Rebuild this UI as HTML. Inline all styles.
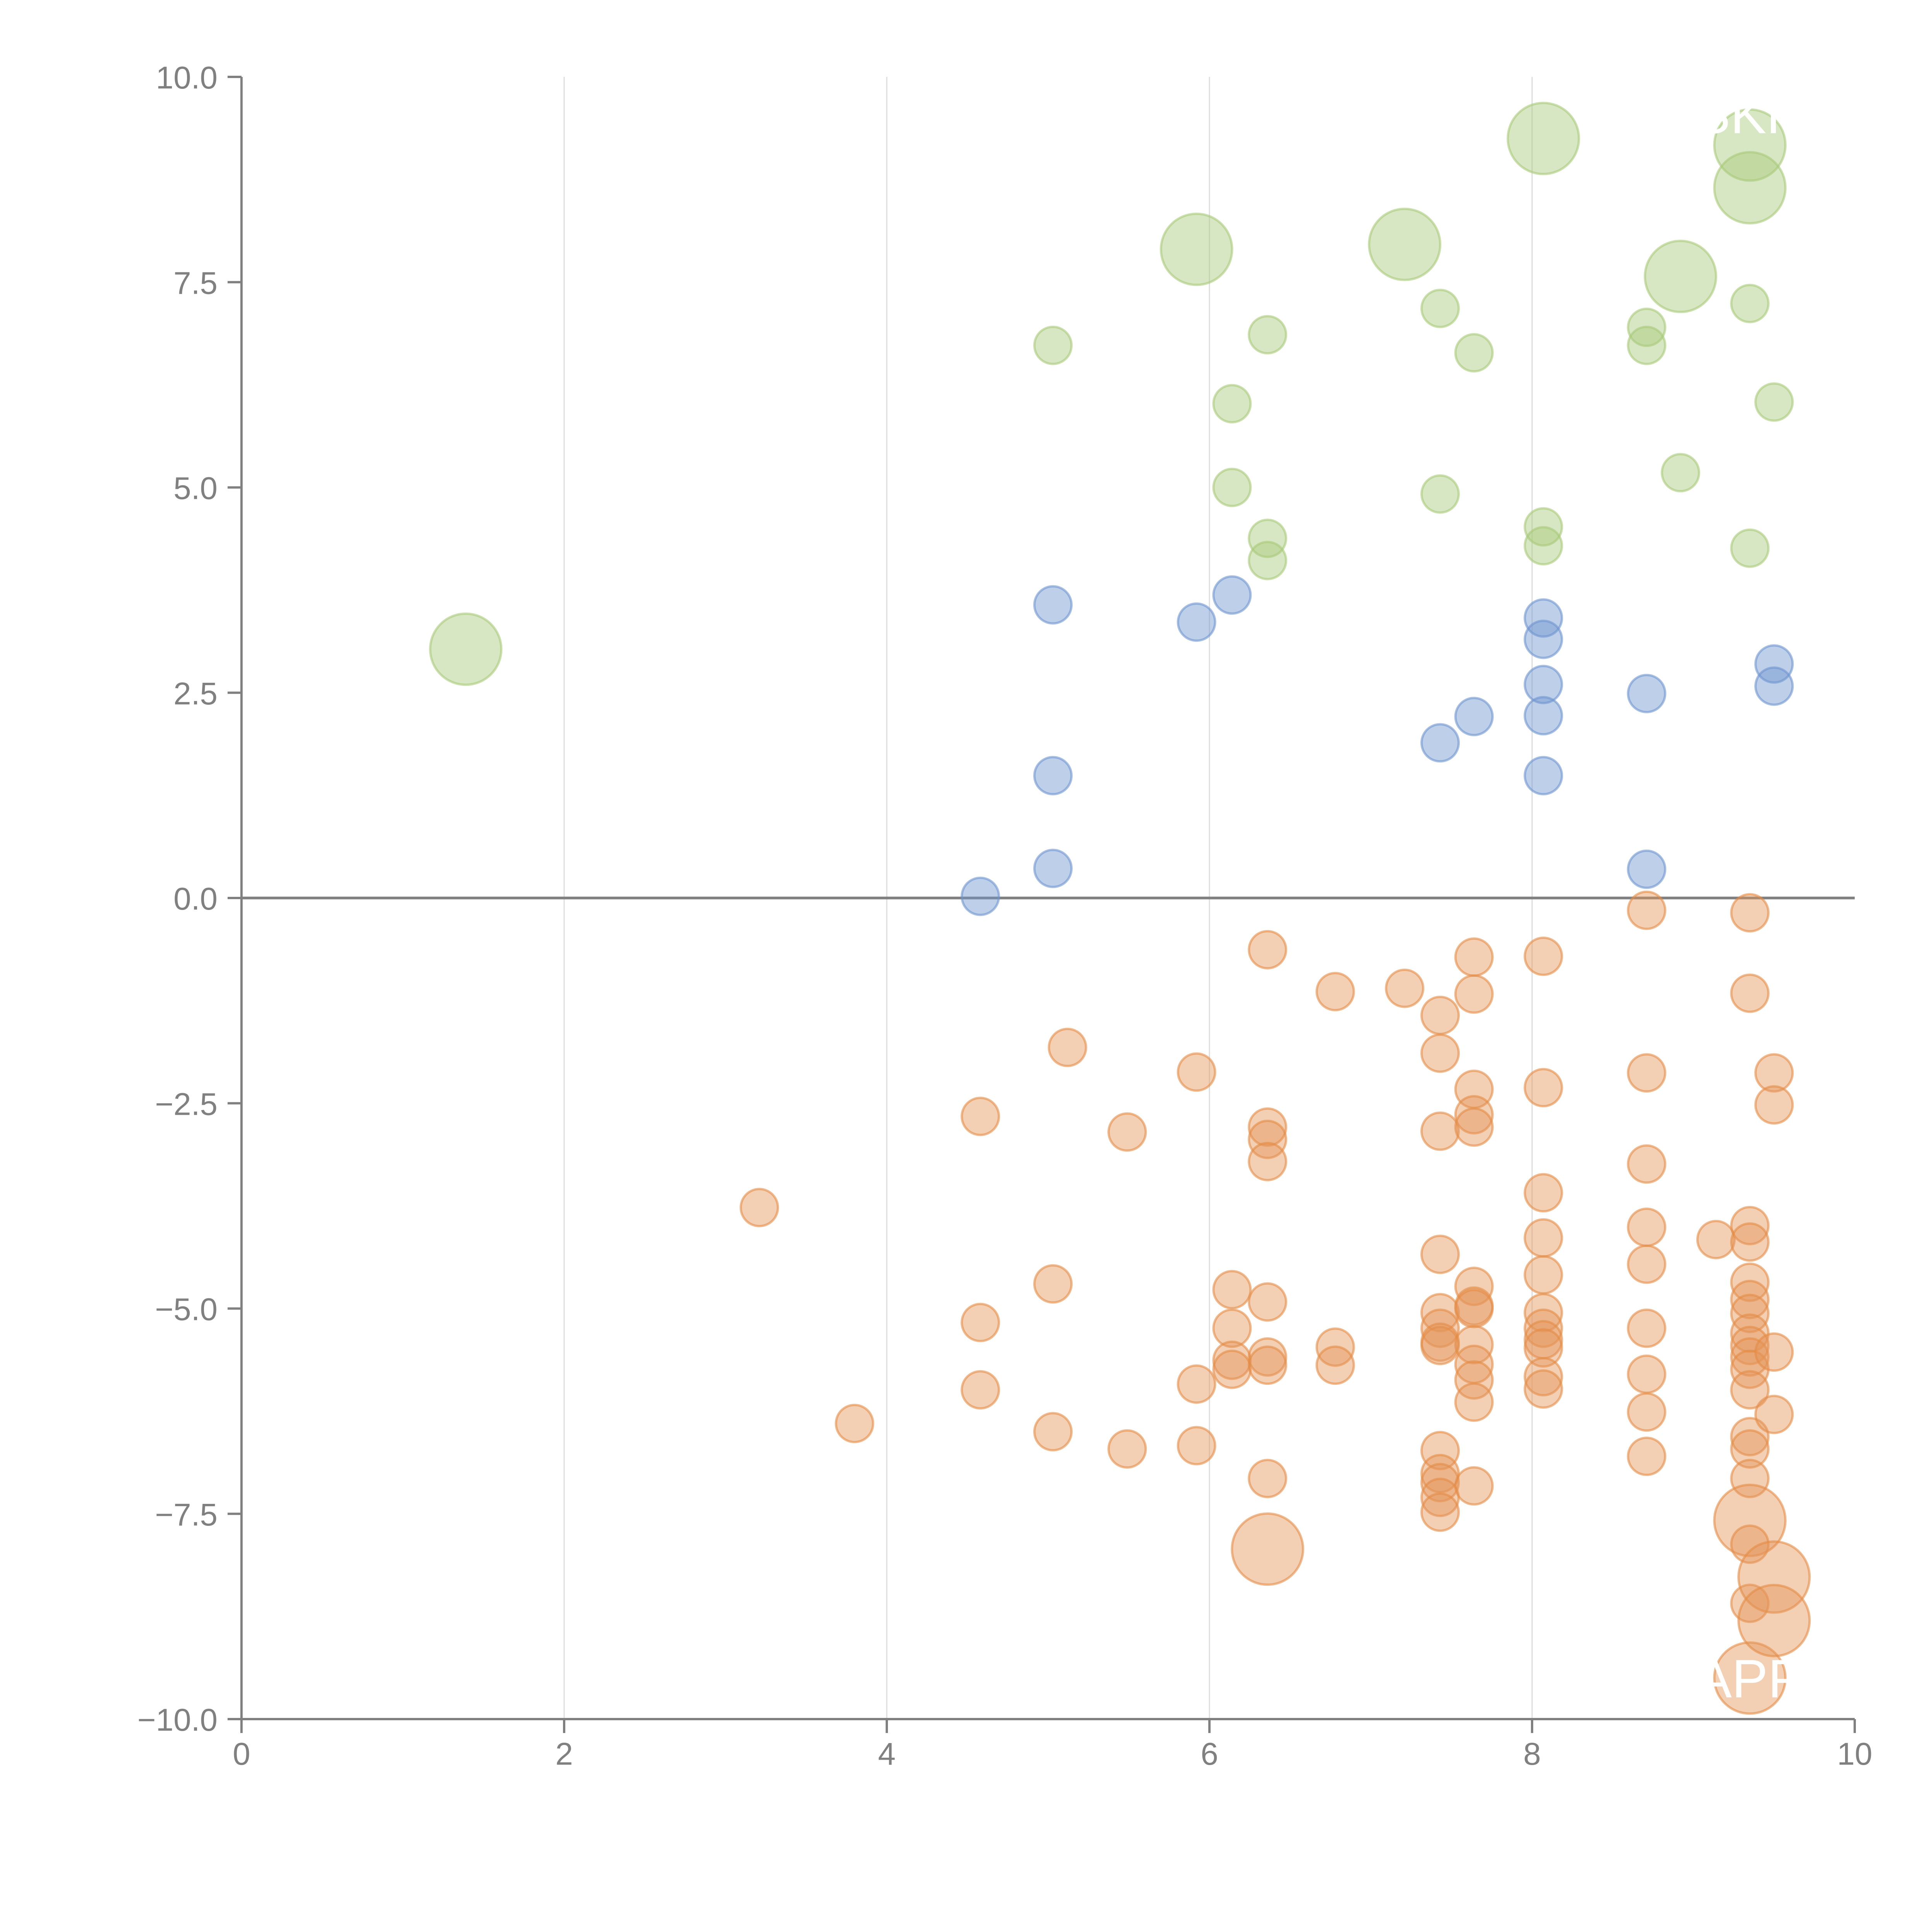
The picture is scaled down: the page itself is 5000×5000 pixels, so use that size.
<!DOCTYPE html>
<html><head><meta charset="utf-8"><style>
html,body{margin:0;padding:0;background:#fff;}
svg{display:block;font-family:"Liberation Sans",Arial,sans-serif;}
</style></head><body>
<svg id="chart" width="5000" height="5000" viewBox="0 0 5000 5000" xmlns="http://www.w3.org/2000/svg">
<rect width="5000" height="5000" fill="#fff"/>
<g id="grid"></g><g id="axes"></g><g id="marks"></g><g id="labels"></g>
</svg>
<script>
const xTicks=[0,2,4,6,8,10];
const yTicks=[-10,-7.5,-5,-2.5,0,2.5,5,7.5,10];
const greenX=[1.39,5.92,7.21,8.07,9.35,9.35,8.92,5.03,6.36,6.14,6.14,6.36,6.36,7.43,7.64,7.43,8.07,8.07,8.71,8.71,9.35,9.50,8.92,9.35];
const greenY=[3.03,7.90,7.96,9.25,9.17,8.65,7.57,6.73,6.86,6.02,5.0,4.38,4.11,7.18,6.64,4.92,4.52,4.29,6.95,6.73,7.24,6.04,5.18,4.26];
const greenS=[2,2,2,2,2,2,2,1,1,1,1,1,1,1,1,1,1,1,1,1,1,1,1,1];
const blueX=[4.58,5.03,5.03,5.03,5.92,6.14,7.43,7.64,8.07,8.07,8.07,8.07,8.07,8.71,8.71,9.50,9.50];
const blueY=[0.02,3.57,1.49,0.36,3.36,3.69,1.89,2.21,3.41,3.15,2.6,2.22,1.49,2.49,0.35,2.85,2.58];
const orangeX=[3.21,3.80,4.58,4.58,4.58,5.12,5.03,5.03,5.49,5.49,5.92,5.92,5.92,6.14,6.14,6.14,6.14,
6.36,6.36,6.36,6.36,6.36,6.36,6.36,6.36,6.36,6.78,6.78,6.78,7.21,
7.43,7.43,7.43,7.43,7.43,7.43,7.43,7.43,7.43,7.43,7.43,7.43,7.43,
7.64,7.64,7.64,7.64,7.64,7.64,7.64,7.64,7.64,7.64,7.64,7.64,7.64,
8.07,8.07,8.07,8.07,8.07,8.07,8.07,8.07,8.07,8.07,8.07,
8.71,8.71,8.71,8.71,8.71,8.71,8.71,8.71,8.71,9.14,
9.35,9.35,9.35,9.35,9.35,9.35,9.35,9.35,9.35,9.35,9.35,9.35,9.35,9.35,9.35,9.35,9.35,9.35,9.35,
9.50,9.50,9.50,9.50,9.50,9.50];
const orangeY=[-3.77,-6.40,-2.66,-5.17,-5.99,-1.82,-4.70,-6.50,-2.85,-6.71,-2.12,-5.92,-6.67,-4.77,-5.24,-5.63,-5.74,
-0.63,-2.79,-2.94,-3.21,-4.92,-5.59,-5.69,-7.07,-7.93,-1.14,-5.47,-5.69,-1.10,
-1.43,-1.89,-2.84,-4.34,-5.05,-5.24,-5.41,-5.45,-6.73,-7.01,-7.12,-7.30,-7.48,
-0.72,-1.17,-2.33,-2.64,-2.79,-4.73,-4.97,-5.0,-5.44,-5.68,-5.87,-6.14,-7.16,
-0.71,-2.31,-3.59,-4.14,-4.59,-5.05,-5.24,-5.38,-5.48,-5.83,-5.98,
-0.15,-2.13,-3.24,-4.01,-4.46,-5.24,-5.80,-6.26,-6.80,-4.16,
-0.18,-1.16,-3.99,-4.19,-4.68,-4.89,-5.06,-5.30,-5.45,-5.59,-5.74,-5.99,-6.56,-6.71,-7.07,-7.58,-7.87,-8.59,-9.50,
-2.13,-2.52,-5.53,-6.29,-8.27,-8.80];
const orangeBig=[25,92,95,100,101];
const orangeS=orangeX.map((_,i)=>orangeBig.includes(i)?2:1);

const NS="http://www.w3.org/2000/svg";
const X0=625,X1=4800,Y0=4449,Y1=199;
const sx=v=>X0+(v-0)/(10-0)*(X1-X0);
const sy=v=>Y0-(v+10)/20*(Y0-Y1);
function mk(tag,attrs,parent){const e=document.createElementNS(NS,tag);for(const k in attrs)e.setAttribute(k,attrs[k]);parent.appendChild(e);return e;}
const grid=document.getElementById('grid'),axes=document.getElementById('axes'),marks=document.getElementById('marks'),labels=document.getElementById('labels');
const fmtY=v=>(v<0?'\u2212':'')+Math.abs(v).toFixed(1);
xTicks.forEach(t=>{
  if(t>0&&t<10){const g=mk('line',{x1:sx(t),x2:sx(t),y1:Y1,y2:Y0,stroke:'#dcdcdc','stroke-width':3},grid);
  }
  const tk=mk('line',{x1:sx(t),x2:sx(t),y1:Y0,y2:Y0+36,stroke:'#808080','stroke-width':6},axes);
  
  const tx=mk('text',{x:sx(t),y:Y0+118,'text-anchor':'middle','font-size':82,fill:'#808080'},axes);
  tx.textContent=String(t);
  
});
yTicks.forEach(t=>{
  const tk=mk('line',{x1:X0-36,x2:X0,y1:sy(t),y2:sy(t),stroke:'#808080','stroke-width':6},axes);
  
  const tx=mk('text',{x:X0-62,y:sy(t)+30,'text-anchor':'end','font-size':82,fill:'#808080'},axes);
  tx.textContent=fmtY(t);
  
});
const ya=mk('line',{x1:X0,x2:X0,y1:Y1,y2:Y0,stroke:'#808080','stroke-width':6},axes);

const xa=mk('line',{x1:X0,x2:X1,y1:Y0,y2:Y0,stroke:'#808080','stroke-width':6},axes);

const zl=mk('line',{x1:X0,x2:X1,y1:sy(0),y2:sy(0),stroke:'#808080','stroke-width':7},axes);


function series(xs,ys,ss,fill,stroke,name){
  xs.forEach((x,i)=>{
    const c=mk('circle',{cx:sx(x),cy:sy(ys[i]),r:ss[i]===2?92:48,fill:fill,stroke:stroke,'stroke-width':6},marks);
    
    
  });
}
series(greenX,greenY,greenS,'rgba(168,201,122,0.45)','rgba(168,201,122,0.6)','green-bubble');
series(blueX,blueY,blueX.map(()=>1),'rgba(110,148,206,0.45)','rgba(110,148,206,0.6)','blue-bubble');
series(orangeX,orangeY,orangeS,'rgba(228,148,88,0.45)','rgba(228,140,70,0.6)','orange-bubble');

const lbls=[["SKR",9.35,9.55],["APP",9.35,-9.50]];
lbls.forEach(l=>{
  const t=mk('text',{x:sx(l[1]),y:sy(l[2])+50,'text-anchor':'middle','font-size':140,fill:'#fff'},labels);
  t.textContent=l[0];
  
});
</script>
</body></html>
